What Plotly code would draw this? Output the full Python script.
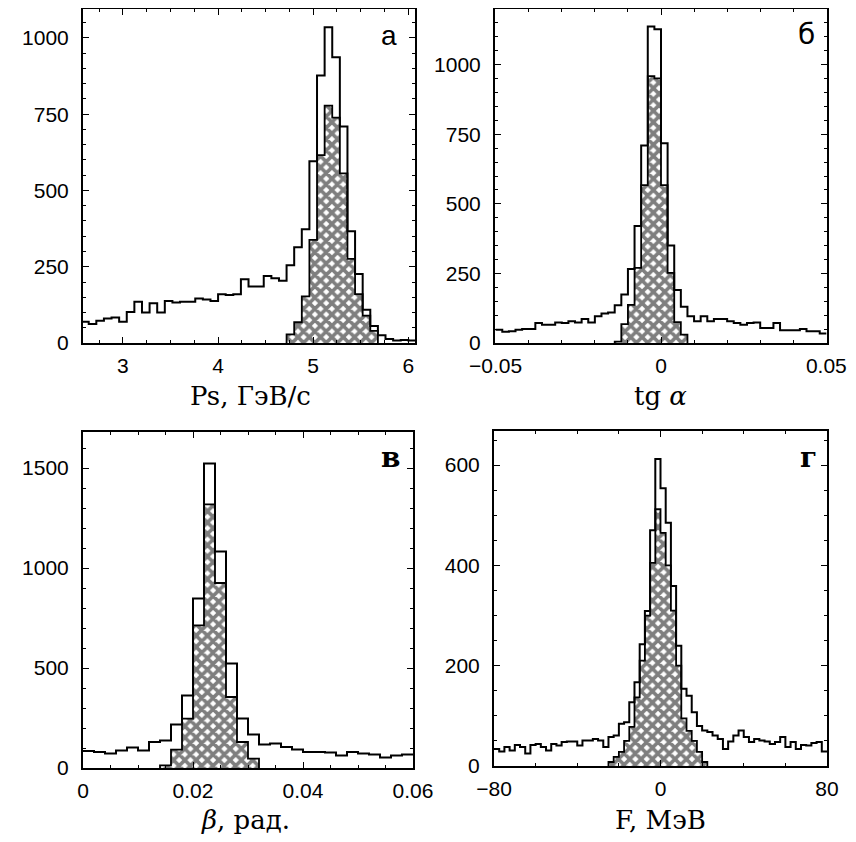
import numpy as np
import plotly.graph_objects as go

# ---------------- data ----------------
# panel а : Ps, GeV/c   (bins of 0.08 starting at 2.56)
ps_start, ps_width = 2.56, 0.08
ps_all = [70, 62, 73, 80, 84, 70, 102, 135, 100, 130,
          100, 138, 133, 135, 135, 146, 143, 138, 160, 157,
          160, 209, 185, 185, 220, 212, 204, 255, 314, 373,
          596, 877, 1035, 937, 710, 366, 226, 109, 56, 25,
          13, 8, 10, 8]
ps_sel = [0] * 27 + [28, 68, 153, 338, 616, 778, 739, 556, 276, 160, 90, 40] + [0] * 5

# panel б : tg alpha   (bins of 0.002 starting at -0.05)
tga_start, tga_width = -0.05, 0.002
tga_all = [48, 40, 42, 48, 50, 50, 72, 66, 66, 74,
           72, 78, 74, 86, 74, 96, 106, 110, 136, 174,
           266, 420, 710, 1137, 1127, 718, 350, 190, 130, 96,
           78, 96, 78, 86, 86, 78, 72, 66, 72, 74,
           54, 54, 72, 46, 46, 46, 50, 42, 42, 34]
tga_sel = [0] * 18 + [5, 68, 137, 270, 567, 959, 951, 567, 252, 75, 30] + [0] * 21

# panel в : beta, rad   (bins of 0.002 starting at 0)
beta_start, beta_width = 0.0, 0.002
beta_all = [85, 80, 72, 88, 102, 88, 130, 138, 218, 362,
            848, 1522, 1082, 522, 247, 168, 118, 122, 105, 92,
            80, 80, 77, 63, 80, 72, 67, 52, 63, 67]
beta_sel = [0] * 7 + [13, 92, 247, 713, 1318, 925, 355, 130, 47] + [0] * 14

# panel г : F, MeV   (bins of 2.5 starting at -80)
f_start, f_width = -80.0, 2.5
f_all = [34, 29, 38, 31, 42, 38, 25, 42, 44, 38,
         31, 44, 41, 48, 49, 49, 41, 51, 51, 54,
         51, 38, 58, 61, 84, 87, 127, 167, 243, 309,
         470, 612, 554, 485, 359, 240, 154, 140, 107, 80,
         71, 68, 61, 54, 34, 49, 61, 71, 58, 48,
         54, 51, 49, 44, 48, 58, 38, 48, 34, 42,
         41, 46, 48, 29]
f_sel = [0] * 22 + [8, 18, 28, 50, 78, 137, 210, 300, 405, 512, 465, 400, 310,
                    200, 95, 70, 50, 28, 8] + [0] * 23

panel_letters = ["а", "б", "<b>в</b>", "<b>г</b>"]
axis_titles = ["Ps, ГэВ/с", "tg <i>α</i>", "<i>β</i>, рад.", "F, МэВ"]

# ---------------- figure ----------------
OFF = 8                      # page body margin of the html page
W, H = 856 - OFF, 842 - OFF  # figure size so that it fills the window
fig = go.Figure()

panels = [
    dict(start=ps_start, width=ps_width, all=ps_all, sel=ps_sel,
         xr=[2.58, 6.07], yr=[0, 1095], xt=[3, 4, 5, 6], xtt=["3", "4", "5", "6"],
         yt=[0, 250, 500, 750, 1000], xminor=0.25, yminor=50,
         px=(83, 415), py=(9, 343)),
    dict(start=tga_start, width=tga_width, all=tga_all, sel=tga_sel,
         xr=[-0.0502, 0.0502], yr=[0, 1200], xt=[-0.05, 0, 0.05], xtt=["−0.05", "0", "0.05"],
         yt=[0, 250, 500, 750, 1000], xminor=0.01, yminor=50,
         px=(495, 827), py=(9, 343)),
    dict(start=beta_start, width=beta_width, all=beta_all, sel=beta_sel,
         xr=[0, 0.06], yr=[0, 1680], xt=[0, 0.02, 0.04, 0.06], xtt=["0", "0.02", "0.04", "0.06"],
         yt=[0, 500, 1000, 1500], xminor=0.005, yminor=100,
         px=(83, 413), py=(432, 768)),
    dict(start=f_start, width=f_width, all=f_all, sel=f_sel,
         xr=[-80, 80], yr=[0, 668], xt=[-80, 0, 80], xtt=["−80", "0", "80"],
         yt=[0, 200, 400, 600], xminor=20, yminor=50,
         px=(494, 827), py=(431, 766)),
]

title_pos = [(250, 396), (660, 396), (245, 820), (660, 820)]
letter_pos = [(389, 35), (806, 34), (390, 457), (808, 457)]
letter_fonts = ["Liberation Sans", "DejaVu Sans", "DejaVu Serif", "DejaVu Serif"]


def fx(px):
    return (px - OFF) / W


def fy(py):
    return 1 - (py - OFF) / H


for i, p in enumerate(panels):
    n = len(p["all"])
    edges = p["start"] + p["width"] * np.arange(n + 1)
    sfx = "" if i == 0 else str(i + 1)
    xa, ya = "x" + sfx, "y" + sfx

    # hatched (selected) histogram as filled step
    sel = np.array(p["sel"], dtype=float)
    nz = np.nonzero(sel)[0]
    a, b = nz[0], nz[-1] + 1
    hx = np.concatenate([[edges[a]], edges[a:b], [edges[b]]])
    hy = np.concatenate([[0], sel[a:b], [0]])
    fig.add_trace(go.Scatter(
        x=hx, y=hy, mode="lines", line=dict(color="black", width=1.8, shape="hv"),
        fill="tozeroy", fillcolor="white",
        fillpattern=dict(shape="x", fgcolor="black", bgcolor="white", size=8, solidity=0.7),
        xaxis=xa, yaxis=ya, showlegend=False, hoverinfo="skip"))

    # open (all events) histogram as step outline
    al = np.array(p["all"], dtype=float)
    ox = edges
    oy = np.concatenate([al, [al[-1]]])
    fig.add_trace(go.Scatter(
        x=ox, y=oy, mode="lines", line=dict(color="black", width=2, shape="hv"),
        xaxis=xa, yaxis=ya, showlegend=False, hoverinfo="skip", cliponaxis=True))

    xd = [fx(p["px"][0]), fx(p["px"][1])]
    yd = [fy(p["py"][1]), fy(p["py"][0])]
    common = dict(showline=True, linecolor="black", linewidth=2, mirror="ticks",
                  ticks="inside", ticklen=6, tickwidth=1.2, tickcolor="black",
                  showgrid=False, zeroline=False, automargin=False,
                  tickfont=dict(family="Liberation Sans, Arial", size=21, color="black"))
    fig.update_layout(**{
        ("xaxis" + sfx): dict(domain=xd, range=p["xr"], tickvals=p["xt"], ticktext=p["xtt"],
                              anchor=ya, ticklabelstandoff=3,
                              minor=dict(dtick=p["xminor"], ticks="inside", ticklen=3,
                                         tickcolor="black", tick0=0), **common),
        ("yaxis" + sfx): dict(domain=yd, range=p["yr"], tickvals=p["yt"],
                              anchor=xa, ticklabelstandoff=8,
                              minor=dict(dtick=p["yminor"], ticks="inside", ticklen=3,
                                         tickcolor="black", tick0=0), **common),
    })

annotations = []
for (tx, ty), t in zip(title_pos, axis_titles):
    annotations.append(dict(text=t, x=fx(tx), y=fy(ty), xref="paper", yref="paper",
                            xanchor="center", yanchor="middle", showarrow=False,
                            font=dict(family="DejaVu Serif", size=26, color="black")))
for (lx, ly), t, fnt in zip(letter_pos, panel_letters, letter_fonts):
    annotations.append(dict(text=t, x=fx(lx), y=fy(ly), xref="paper", yref="paper",
                            xanchor="center", yanchor="middle", showarrow=False,
                            font=dict(family=fnt, size=28, color="black")))

fig.update_layout(width=W, height=H, margin=dict(l=0, r=0, t=0, b=0, autoexpand=False),
                  paper_bgcolor="white", plot_bgcolor="white",
                  annotations=annotations, showlegend=False)

fig.write_html("out.html")
